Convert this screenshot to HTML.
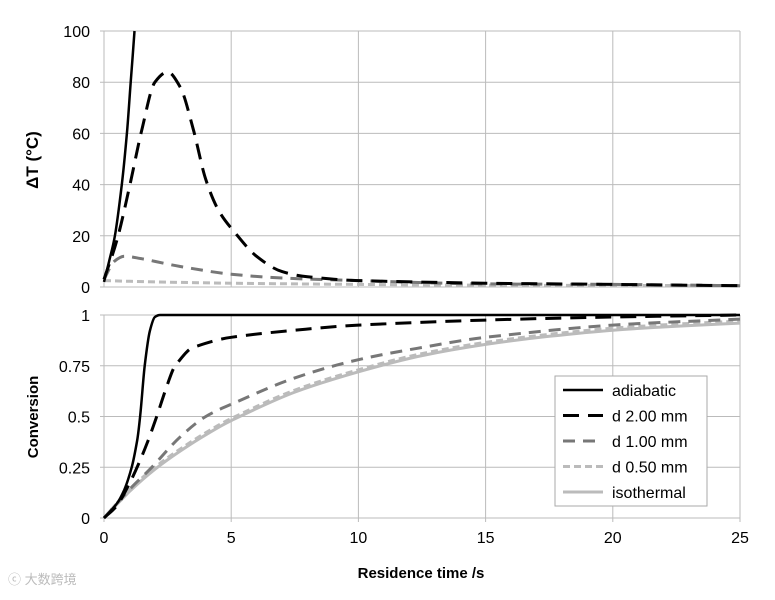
<!DOCTYPE html>
<html><head><meta charset="utf-8"><style>
body{margin:0;background:#fff}
svg text{font-family:"Liberation Sans",sans-serif;fill:#000}
</style></head><body>
<svg id="chart" width="775" height="595" xmlns="http://www.w3.org/2000/svg">
<g id="grid"></g>
<g id="series"></g>
<g id="labels"></g>
<text x="38" y="160" font-size="17" font-weight="bold" text-anchor="middle" transform="rotate(-90 38 160)">ΔT (°C)</text>
<text x="38" y="417" font-size="15" font-weight="bold" text-anchor="middle" transform="rotate(-90 38 417)">Conversion</text>
<text x="421" y="578" font-size="15" font-weight="bold" text-anchor="middle">Residence time /s</text>
<text x="8" y="584" font-size="13" style="fill:#bbb">ⓒ 大数跨境</text>
<g id="legend"></g>
</svg>
<script>
const xTicks=[0,5,10,15,20,25];
const topTicks=[0,20,40,60,80,100];
const botTicks=[0,0.25,0.5,0.75,1];
const botTickLabels=["0","0.25","0.5","0.75","1"];
const tAdiaTop=[0,0.2,0.43,0.7,0.9,1.05,1.2];
const dTAdia=[2,10,20,40,60,80,100];
const tD2Top=[0,0.5,1,1.5,2,2.5,3,3.5,4,4.5,5,6,7,8,10,15,20,25];
const dTD2=[3,18,39,62,80,84,78,62,42,30,23,12,6,4,2.5,1.5,1,0.5];
const tD1Top=[0,0.4,0.8,1.5,2,3,5,7,10,15,20,25];
const dTD1=[3,10,12,11,10,8,5,3.5,2.5,1.2,1,0.5];
const tD05Top=[0,2,5,10,15,25];
const dTD05=[2.5,2,1.5,1,0.7,0.5];
const tAdia=[0,0.5,0.8,1.09,1.3,1.42,1.6,1.8,2.0,2.2,25];
const cAdia=[0,0.07,0.14,0.25,0.38,0.5,0.75,0.92,0.99,1,1];
const tD2=[0,0.5,1,1.3,1.7,2.07,2.5,2.8,3.5,5,7.5,10,15,20,25];
const cD2=[0,0.06,0.17,0.25,0.37,0.5,0.66,0.75,0.84,0.89,0.925,0.95,0.975,0.99,1];
const tD1=[0,1,1.88,3,4,5,7.5,10,12.5,15,20,25];
const cD1=[0,0.14,0.25,0.4,0.5,0.56,0.69,0.78,0.84,0.89,0.95,0.98];
const tIso=[0,1,2,3,4,5,7.5,10,12.5,15,17.5,20,22.5,25];
const cIso=[0,0.13,0.24,0.33,0.41,0.48,0.62,0.72,0.8,0.855,0.895,0.925,0.945,0.96];
const cD05=[0,0.14,0.25,0.34,0.42,0.49,0.63,0.73,0.81,0.865,0.905,0.935,0.955,0.97];
const NS="http://www.w3.org/2000/svg";
const X0=104,X1=740,TT=31,TB=287,BT=315,BB=518;
const xs=v=>X0+(v/25)*(X1-X0);
const yt=v=>TB-(v/100)*(TB-TT);
const yb=v=>BB-v*(BB-BT);
function mk(tag,attrs,parent){const e=document.createElementNS(NS,tag);for(const k in attrs)e.setAttribute(k,attrs[k]);document.getElementById(parent).appendChild(e);return e;}
xTicks.forEach(v=>{
 let l=mk('line',{x1:xs(v),x2:xs(v),y1:TT,y2:TB,stroke:'#bbb','stroke-width':1},'grid');
 
 l=mk('line',{x1:xs(v),x2:xs(v),y1:BT,y2:BB+4,stroke:'#bbb','stroke-width':1},'grid');
 
 const t=mk('text',{x:xs(v),y:BB+25,'font-size':16,'text-anchor':'middle'},'labels');t.textContent=v;
 
});
topTicks.forEach(v=>{
 const l=mk('line',{x1:X0-4,x2:X1,y1:yt(v),y2:yt(v),stroke:'#bbb','stroke-width':1},'grid');
 
 const t=mk('text',{x:X0-14,y:yt(v)+6,'font-size':16,'text-anchor':'end'},'labels');t.textContent=v;
 
});
botTicks.forEach((v,i)=>{
 const l=mk('line',{x1:X0-4,x2:X1,y1:yb(v),y2:yb(v),stroke:'#bbb','stroke-width':1},'grid');
 
 const t=mk('text',{x:X0-14,y:yb(v)+6,'font-size':16,'text-anchor':'end'},'labels');t.textContent=botTickLabels[i];
 
});
function line(tArr,vArr,yf,style,name,clipTop){
 const P=tArr.map((t,i)=>[xs(t),yf(vArr[i])]);
 const n=P.length,dx=[],m=[],tg=[];
 for(let i=0;i<n-1;i++){dx[i]=P[i+1][0]-P[i][0];m[i]=(P[i+1][1]-P[i][1])/dx[i];}
 tg[0]=m[0];tg[n-1]=m[n-2];
 for(let i=1;i<n-1;i++){tg[i]=(m[i-1]*m[i]<=0)?0:(dx[i-1]+dx[i])/(dx[i-1]/m[i-1]+dx[i]/m[i]);}
 let d='M'+P[0][0].toFixed(1)+','+P[0][1].toFixed(1);
 for(let i=0;i<n-1;i++){
  const h=dx[i]/3;
  const c1=[P[i][0]+h,P[i][1]+tg[i]*h],c2=[P[i+1][0]-h,P[i+1][1]-tg[i+1]*h];
  d+=' C'+[c1,c2,P[i+1]].map(q=>q[0].toFixed(1)+','+Math.max(clipTop,q[1]).toFixed(1)).join(' ');
 }
 const p=mk('path',Object.assign({d:d,fill:'none','stroke-linejoin':'round'},style),'series');
 
}
const S={
 adia:{stroke:'#000','stroke-width':2.5},
 d2:{stroke:'#000','stroke-width':3,'stroke-dasharray':'16,9'},
 d1:{stroke:'#777','stroke-width':3,'stroke-dasharray':'12,8'},
 d05:{stroke:'#bbb','stroke-width':3,'stroke-dasharray':'7,4'},
 iso:{stroke:'#bbb','stroke-width':3}
};
line(tD05Top,dTD05,yt,S.d05,'top-d050-line',TT);
line(tD1Top,dTD1,yt,S.d1,'top-d100-line',TT);
line(tD2Top,dTD2,yt,S.d2,'top-d200-line',TT);
line(tAdiaTop,dTAdia,yt,S.adia,'top-adiabatic-line',TT);
line(tIso,cIso,yb,S.iso,'bottom-isothermal-line',BT);
line(tIso,cD05,yb,S.d05,'bottom-d050-line',BT);
line(tD1,cD1,yb,S.d1,'bottom-d100-line',BT);
line(tD2,cD2,yb,S.d2,'bottom-d200-line',BT);
line(tAdia,cAdia,yb,S.adia,'bottom-adiabatic-line',BT);
const box=mk('rect',{x:555,y:376,width:152,height:130,fill:'#fff',stroke:'#aaa','stroke-width':1},'legend');

const legNames=['adiabatic','d 2.00 mm','d 1.00 mm','d 0.50 mm','isothermal'];
const legStyles=[S.adia,S.d2,S.d1,S.d05,S.iso];
legNames.forEach((n,i)=>{
 const y=390+i*25.5;
 const l=mk('line',Object.assign({x1:563,x2:603,y1:y,y2:y},legStyles[i]),'legend');
 
 const t=mk('text',{x:612,y:y+6,'font-size':16},'legend');t.textContent=n;
 
});
</script>
</body></html>
